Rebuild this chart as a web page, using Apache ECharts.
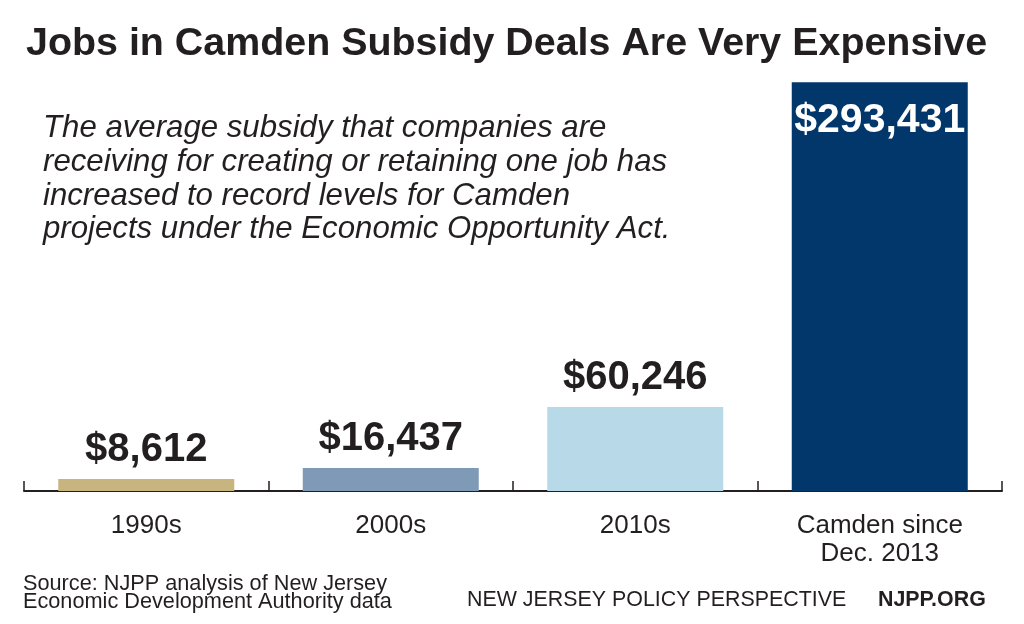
<!DOCTYPE html>
<html>
<head>
<meta charset="utf-8">
<style>
  html, body { margin: 0; padding: 0; background: #ffffff; }
  #chart { width: 1024px; height: 624px; }
</style>
<script src="https://cdn.jsdelivr.net/npm/echarts@6/dist/echarts.min.js"></script>
</head>
<body>
<div id="chart"></div>
<script>
// ---- Data ----
const categories = ['1990s', '2000s', '2010s', 'Camden since\nDec. 2013'];
const subsidyPerJob = [8612, 16437, 60246, 293431];
const barColors = ['#c8b47e', '#7f9ab6', '#b8d9e8', '#01376b'];
const titleText = 'Jobs in Camden Subsidy Deals Are Very Expensive';
const subtitleLines = [
  'The average subsidy that companies are',
  'receiving for creating or retaining one job has',
  'increased to record levels for Camden',
  'projects under the Economic Opportunity Act.'
];
const sourceLines = ['Source: NJPP analysis of New Jersey', 'Economic Development Authority data'];
const footerLeft = 'NEW JERSEY POLICY PERSPECTIVE';
const footerRight = 'NJPP.ORG';

const FONT = '"Liberation Sans", Arial, Helvetica, sans-serif';
const INK = '#231f20';

const fmt = v => '$' + v.toLocaleString('en-US');

const barData = subsidyPerJob.map((v, i) => {
  const isLast = i === subsidyPerJob.length - 1;
  return {
    value: v,
    itemStyle: { color: barColors[i] },
    label: isLast ? {
      position: 'insideTop',
      distance: 18,
      color: '#ffffff',
      fontSize: 41,
      fontWeight: 'bold'
    } : {
      position: 'top',
      distance: 9,
      color: INK,
      fontSize: 40,
      fontWeight: 'bold'
    }
  };
});

const chart = echarts.init(document.getElementById('chart'), null, { renderer: 'canvas' });

chart.setOption({
  backgroundColor: '#ffffff',
  animation: false,
  textStyle: { fontFamily: FONT },
  title: [
    {
      text: titleText,
      left: 26, top: 25,
      textStyle: { fontFamily: FONT, fontSize: 39.4, fontWeight: 'bold', color: INK, lineHeight: 39 },
      padding: 0
    },
    {
      text: subtitleLines.join('\n'),
      left: 43, top: 112,
      textStyle: { fontFamily: FONT, fontSize: 31.2, fontStyle: 'italic', fontWeight: 'normal', color: INK, lineHeight: 33.6 },
      padding: 0
    },
    {
      text: sourceLines.join('\n'),
      left: 23, top: 575,
      textStyle: { fontFamily: FONT, fontSize: 21.7, fontWeight: 'normal', color: INK, lineHeight: 18 },
      padding: 0
    },
    {
      text: footerLeft,
      left: 467, top: 590,
      textStyle: { fontFamily: FONT, fontSize: 21.4, fontWeight: 'normal', color: INK, lineHeight: 21 },
      padding: 0
    },
    {
      text: footerRight,
      left: 878, top: 590,
      textStyle: { fontFamily: FONT, fontSize: 21.4, fontWeight: 'bold', color: INK, lineHeight: 21 },
      padding: 0
    }
  ],
  grid: { left: 24, right: 22, top: 73, bottom: 133, containLabel: false },
  xAxis: {
    type: 'category',
    data: categories,
    boundaryGap: true,
    axisLine: { show: true, lineStyle: { color: '#231f20', width: 2 } },
    axisTick: { show: true, inside: true, length: 10, alignWithLabel: false, lineStyle: { color: '#231f20', width: 1.5 } },
    axisLabel: {
      color: INK, fontFamily: FONT, fontSize: 26, lineHeight: 28, margin: 21, interval: 0
    },
    splitLine: { show: false }
  },
  yAxis: {
    type: 'value',
    min: 0, max: 300000,
    show: false,
    splitLine: { show: false }
  },
  series: [{
    type: 'bar',
    data: barData,
    barWidth: 176,
    label: { show: true, formatter: p => fmt(p.value), fontFamily: FONT }
  }]
});
</script>
</body>
</html>
